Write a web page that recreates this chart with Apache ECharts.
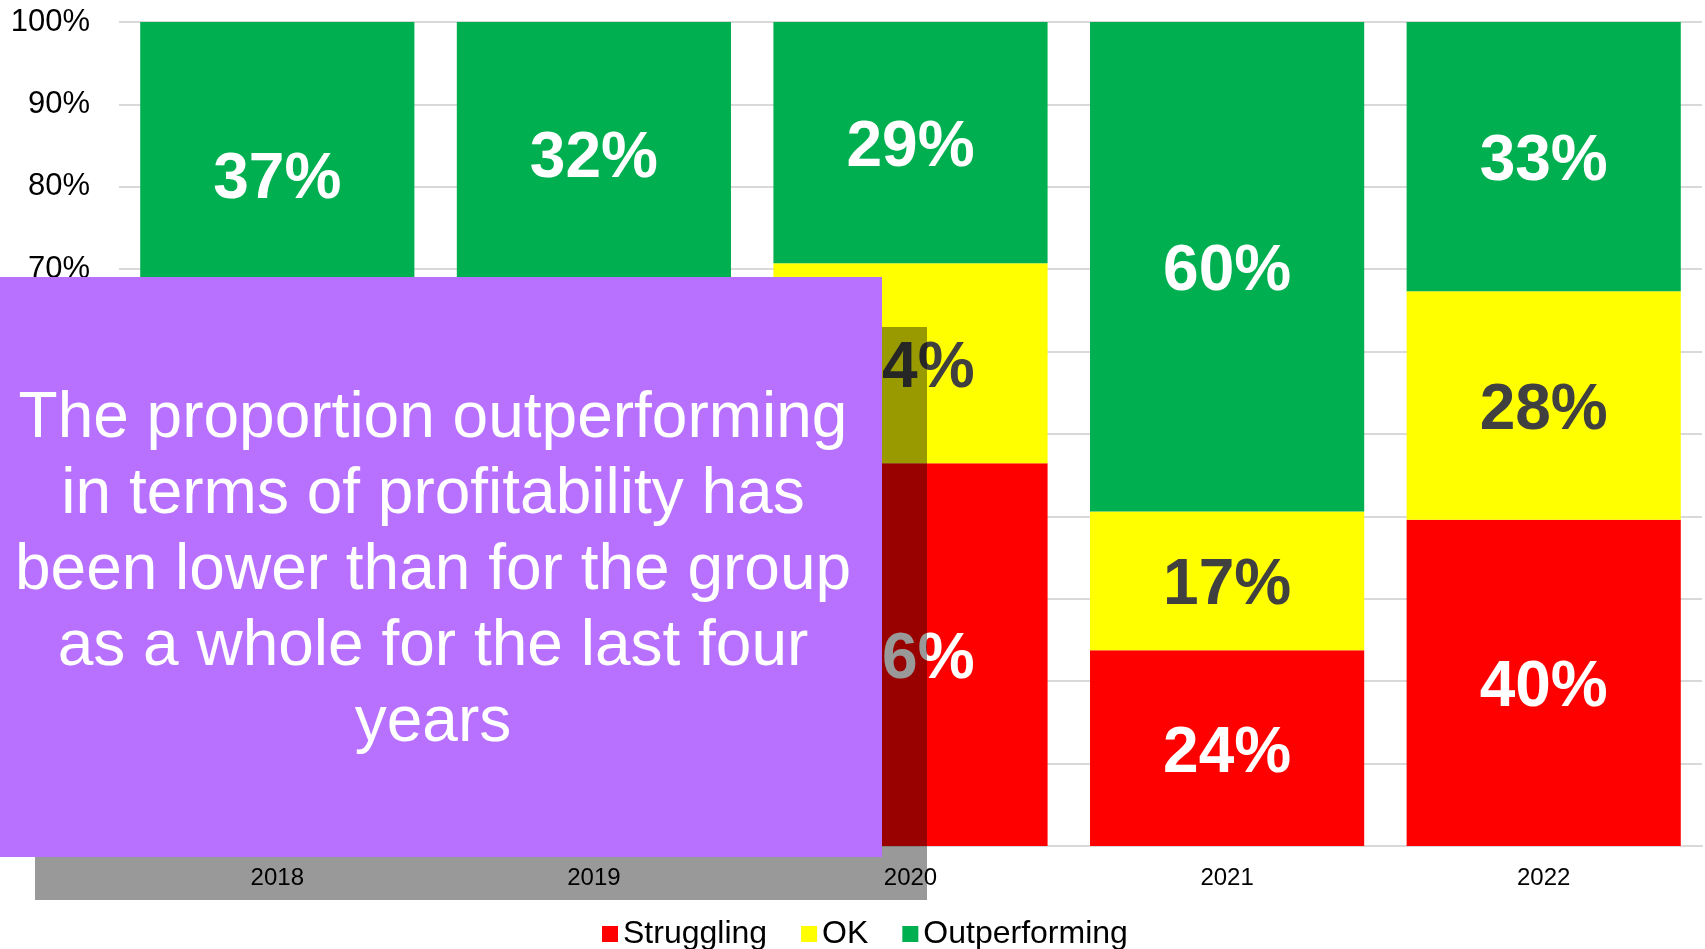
<!DOCTYPE html>
<html>
<head>
<meta charset="utf-8">
<script src="https://cdn.jsdelivr.net/npm/echarts@6/dist/echarts.min.js"></script>
<style>
    html, body { margin: 0; padding: 0; background: #fff; }
    #main { width: 1705px; height: 949px; }
</style>
</head>
<body>
<div id="main"></div>
<script>
var years = ['2018', '2019', '2020', '2021', '2022'];
// 2018/2019 struggling and OK values are hidden behind the text box in the source
var struggling = [33, 36, 46, 24, 40];
var ok = [30, 32, 24, 17, 28];
var outperforming = [37, 32, 29, 60, 33];
var yMin = 0, yMax = 100, yStep = 10;
var boxText = 'The proportion outperforming\nin terms of profitability has\nbeen lower than for the group\nas a whole for the last four\nyears';

// 100% stacked: scale each year to its own total, labels keep the read values
function toShare(list) {
    var out = [];
    for (var i = 0; i < list.length; i++) {
        var total = struggling[i] + ok[i] + outperforming[i];
        out.push({ value: list[i] / total * 100, raw: list[i] });
    }
    return out;
}

function barSeries(name, list, color, labelColor) {
    return {
        name: name,
        type: 'bar',
        stack: 'total',
        barCategoryGap: '13.4%',
        data: toShare(list),
        itemStyle: { color: color },
        label: {
            show: true,
            position: 'inside',
            offset: [0, 6],
            formatter: function (p) { return p.data.raw + '%'; },
            color: labelColor,
            fontFamily: 'Liberation Sans',
            fontWeight: 'bold',
            fontSize: 64
        }
    };
}

var myChart = echarts.init(document.getElementById('main'));
var option = {
    animation: false,
    textStyle: { fontFamily: 'Liberation Sans' },
    grid: { left: 119, right: 3, top: 22, bottom: 103 },
    legend: {
        left: 597,
        top: 913,
        icon: 'rect',
        itemWidth: 16,
        itemHeight: 16,
        itemGap: 34,
        textStyle: { fontSize: 32, color: '#000', fontFamily: 'Liberation Sans' },
        data: ['Struggling', 'OK', 'Outperforming']
    },
    xAxis: {
        type: 'category',
        data: years,
        axisTick: { show: false },
        axisLine: { lineStyle: { color: '#d9d9d9', width: 2 } },
        axisLabel: { fontSize: 24, color: '#000', margin: 20 }
    },
    yAxis: {
        type: 'value',
        min: yMin,
        max: yMax,
        interval: yStep,
        axisLabel: { formatter: '{value}%', fontSize: 31, color: '#000', margin: 29 },
        axisLine: { show: false },
        axisTick: { show: false },
        splitLine: { lineStyle: { color: '#d9d9d9', width: 2 } }
    },
    series: [
        barSeries('Struggling', struggling, '#ff0000', '#ffffff'),
        barSeries('OK', ok, '#ffff00', '#404040'),
        barSeries('Outperforming', outperforming, '#00b050', '#ffffff')
    ],
    graphic: [
        {
            type: 'rect',
            z: 99,
            shape: { x: 35, y: 327, width: 892, height: 573 },
            style: { fill: 'rgba(0,0,0,0.4)' }
        },
        {
            type: 'rect',
            z: 100,
            shape: { x: 0, y: 277, width: 882, height: 580 },
            style: { fill: '#b871fe' }
        },
        {
            type: 'text',
            z: 101,
            x: 433,
            y: 571,
            style: {
                text: boxText,
                fill: '#ffffff',
                fontFamily: 'Liberation Sans',
                fontSize: 64,
                lineHeight: 76,
                align: 'center',
                verticalAlign: 'middle'
            }
        }
    ]
};
myChart.setOption(option, true);
</script>
</body>
</html>
